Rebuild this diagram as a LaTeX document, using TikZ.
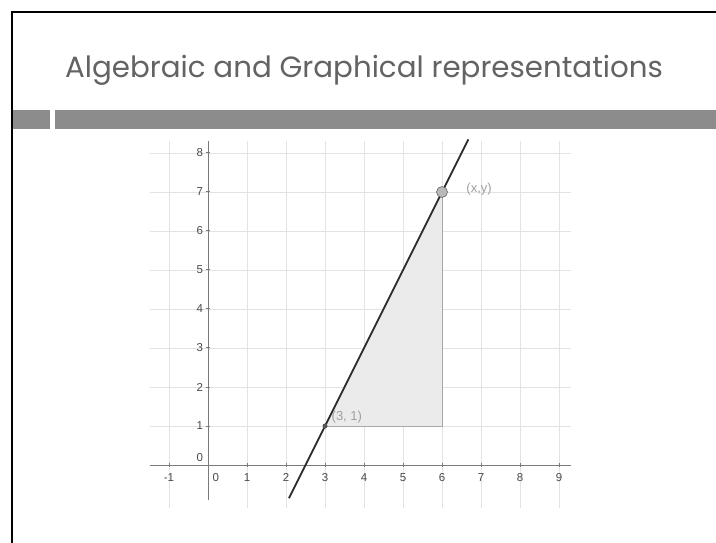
\documentclass[tikz,border=0pt]{standalone}
\usepackage{fontspec}
\setmainfont{Liberation Sans}
\newfontfamily\titlefont{Poppins}
\definecolor{titlecol}{HTML}{636363}
\definecolor{barcol}{HTML}{8C8C8C}
\definecolor{gridcol}{HTML}{E3E3E3}
\definecolor{axiscol}{HTML}{7A7A7A}
\definecolor{labcol}{HTML}{4A4A4A}
\definecolor{shadecol}{HTML}{EBEBEB}
\definecolor{edgecol}{HTML}{A8A8A8}
\definecolor{linecol}{HTML}{2A2A2A}
\definecolor{ptlabcol}{HTML}{A0A0A0}
\tikzset{
  gridline/.style={draw=gridcol, line width=0.9bp},
  axisline/.style={draw=axiscol, line width=1bp},
  ticklab/.style={text=labcol, font=\fontsize{11.5bp}{12bp}\selectfont, inner sep=0pt},
  ptlab/.style={text=ptlabcol, font=\fontsize{13bp}{14bp}\selectfont, inner sep=0pt},
  mainline/.style={draw=linecol, line width=1.8bp},
  bigpt/.style={circle, fill=gray!55, draw=gray!80!black, line width=0.6bp, minimum size=11bp, inner sep=0pt},
  smallpt/.style={circle, fill=linecol!80, minimum size=5bp, inner sep=0pt}
}
\begin{document}
\begin{tikzpicture}[x=1bp,y=-1bp]
\useasboundingbox (0,0) rectangle (716,543);
\fill[white] (0,0) rectangle (716,543);
% frame
\draw[line width=2bp] (12,543) -- (12,12) -- (716,12);
% bar
\fill[barcol] (13,110) rectangle (716,129);
\fill[white] (50,110) rectangle (55,129);
% title
\node[anchor=base west, inner sep=0pt, text=titlecol, font=\titlefont\fontsize{29.3bp}{34bp}\selectfont] (title) at (65,78) {Algebraic and Graphical representations};
% graph
\begin{scope}[shift={(208,465)}, x=39bp, y=39bp]
  \foreach \i in {-1,1,2,...,9} \draw[gridline] (\i,-1.1) -- (\i,8.3);
  \foreach \j in {1,...,8} \draw[gridline] (-1.5,\j) -- (9.3,\j);
  \draw[axisline] (-1.5,0) -- (9.3,0);
  \draw[axisline] (0,-0.9) -- (0,8.3);
  \foreach \i in {-1,1,2,...,9} \draw[axisline] (\i,0.06) -- (\i,-0.06);
  \foreach \j in {1,...,8} \draw[axisline] (-0.06,\j) -- (0.06,\j);
  \foreach \i in {-1,1,2,...,9} \node[ticklab] (xl\i) at (\i,-0.33) {\i};
  \node[ticklab] (xl0) at (0.2,-0.33) {0};
  \foreach \j in {1,...,8} \node[ticklab, anchor=east] (yl\j) at (-0.12,\j) {\j};
  \node[ticklab, anchor=east] (yl0) at (-0.12,0.18) {0};
  % triangle
  \coordinate (A) at (3,1);
  \coordinate (B) at (6,7);
  \coordinate (C) at (6,1);
  \fill[shadecol] (A) -- (C) -- (B) -- cycle;
  \draw[edgecol, line width=1bp] (A) -- (C) -- (B);
  % line
  \coordinate (L1) at (2.075,-0.85);
  \coordinate (L2) at (6.675,8.35);
  \draw[mainline] (L1) -- (A) -- (B) -- (L2);
  \node[bigpt] (Bp) at (B) {};
  \node[smallpt] (Ap) at (A) {};
  \node[ptlab] (Blab) at (6.95,7.08) {(x,y)};
  \node[ptlab] (Alab) at (3.56,1.23) {(3, 1)};
\end{scope}
\end{tikzpicture}
\end{document}
